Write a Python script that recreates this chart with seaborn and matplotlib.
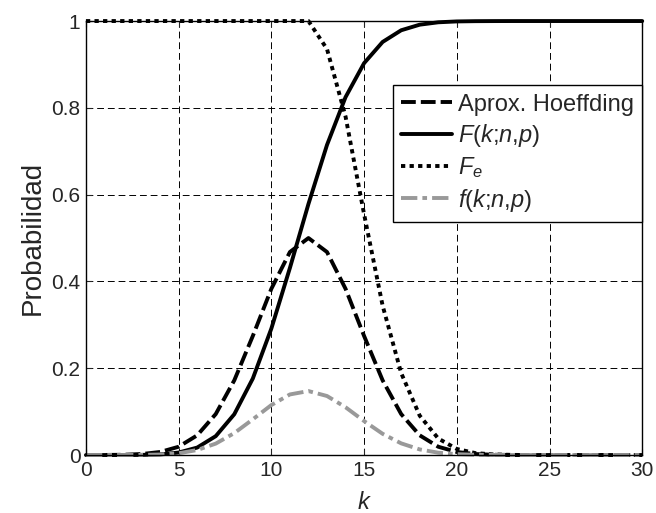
import matplotlib
matplotlib.use("Agg")
import matplotlib.pyplot as plt
import seaborn as sns
import pandas as pd

# ---- data ----
k = list(range(0, 31))
hoeffding = [0.0000, 0.0002, 0.0006, 0.0023, 0.0070, 0.0191, 0.0454, 0.0944,
             0.1721, 0.2744, 0.3831, 0.4678, 0.5000, 0.4678, 0.3831, 0.2744,
             0.1721, 0.0944, 0.0454, 0.0191, 0.0070, 0.0023, 0.0006, 0.0002,
             0, 0, 0, 0, 0, 0, 0]
cdf = [0, 0, 0, 0.0003, 0.0015, 0.0057, 0.0172, 0.0435, 0.0940, 0.1763,
       0.2915, 0.4311, 0.5785, 0.7145, 0.8246, 0.9029, 0.9518, 0.9787,
       0.9916, 0.9971, 0.9991, 0.9997, 0.9999, 1, 1, 1, 1, 1, 1, 1, 1]
fe = [1, 1, 1, 1, 1, 1, 1, 1, 1, 1, 1, 1, 1, 0.9355, 0.7800, 0.5550,
      0.3442, 0.1889, 0.0907, 0.0381, 0.0140, 0.0045, 0.0013, 0.0003,
      0.0001, 0, 0, 0, 0, 0, 0]
pmf = [0, 0, 0, 0.0003, 0.0012, 0.0041, 0.0115, 0.0263, 0.0505, 0.0823,
       0.1152, 0.1396, 0.1474, 0.1360, 0.1101, 0.0783, 0.0489, 0.0269,
       0.0129, 0.0054, 0.0020, 0.0006, 0.0002, 0, 0, 0, 0, 0, 0, 0, 0]
labels = ["Aprox. Hoeffding", "$F$($k$;$n$,$p$)", "$F_e$", "$f$($k$;$n$,$p$)"]
xticks = [0, 5, 10, 15, 20, 25, 30]
yticks = [0, 0.2, 0.4, 0.6, 0.8, 1]
ytick_labels = ["0", "0.2", "0.4", "0.6", "0.8", "1"]

df = pd.DataFrame({"k": k, "H": hoeffding, "F": cdf, "Fe": fe, "f": pmf})

sns.set_style("white")
plt.rcParams["font.family"] = ["Liberation Sans", "DejaVu Sans"]
plt.rcParams["mathtext.fontset"] = "custom"
plt.rcParams["mathtext.rm"] = "Liberation Sans"
plt.rcParams["mathtext.it"] = "Liberation Sans:italic"

fig = plt.figure(figsize=(6.56, 5.13), dpi=100)
ax = fig.add_axes([0.131, 0.113, 0.848, 0.846])

lw = 2.8
styles = [
    ("H", labels[0], "black", (0, (3.8, 1.3))),
    ("F", labels[1], "black", "-"),
    ("Fe", labels[2], "black", (0, (1.1, 1.1))),
    ("f", labels[3], "#999999", (0, (4.2, 1.3, 1.2, 1.3))),
]
for col, lab, color, ls in styles:
    sns.lineplot(data=df, x="k", y=col, ax=ax, color=color, lw=lw,
                 linestyle=ls, label=lab, clip_on=False)

ax.set_xlim(0, 30)
ax.set_ylim(0, 1)
ax.set_xticks(xticks)
ax.set_xticklabels([str(t) for t in xticks])
ax.set_yticks(yticks)
ax.set_yticklabels(ytick_labels)
ax.tick_params(axis="both", labelsize=15, direction="in", length=4, width=0.8,
               top=True, right=True, bottom=True, left=True, pad=4)
ax.grid(True, color="black", linestyle=(0, (7, 4)), linewidth=0.7)
ax.set_axisbelow(True)
for s in ax.spines.values():
    s.set_color("black")
    s.set_linewidth(1.0)

ax.set_xlabel("$k$", fontsize=17, labelpad=9)
ax.set_ylabel("Probabilidad", fontsize=20, labelpad=4)

leg = ax.legend(loc="upper right", bbox_to_anchor=(1.0, 0.852), fontsize=17,
                handlelength=2.15, handletextpad=0.25, labelspacing=0.27,
                borderpad=0.35, borderaxespad=0, fancybox=False, framealpha=1,
                edgecolor="black")
leg.get_frame().set_linewidth(1.0)

fig.savefig("out.png", dpi=100)
